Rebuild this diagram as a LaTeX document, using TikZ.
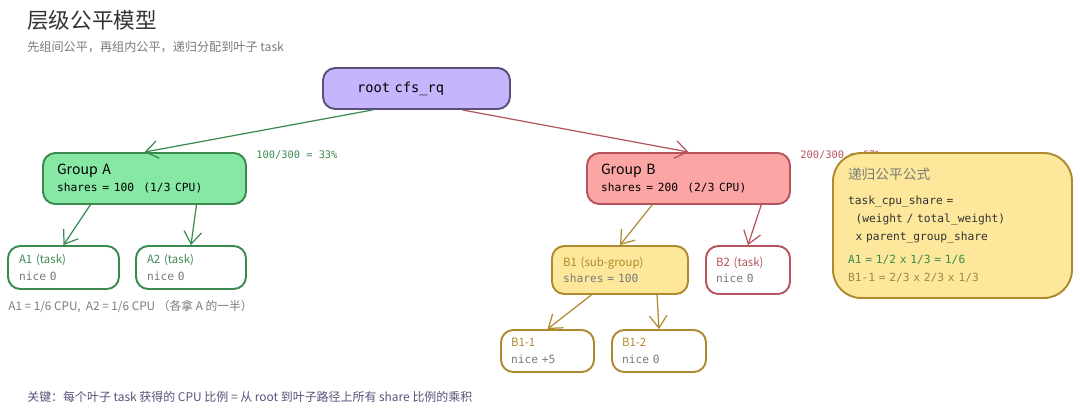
\documentclass[tikz,border=0pt]{standalone}
\usepackage{fontspec}
\setmainfont{Noto Sans CJK SC}
\setmonofont{DejaVu Sans Mono}
\usetikzlibrary{arrows.meta}
\definecolor{lav}{HTML}{C4B5FD}
\definecolor{lavline}{HTML}{5B4F7A}
\definecolor{grn}{HTML}{86E8A4}
\definecolor{grnline}{HTML}{3A8A50}
\definecolor{rd}{HTML}{FCA5A5}
\definecolor{rdline}{HTML}{B5545C}
\definecolor{yl}{HTML}{FCE79A}
\definecolor{ylline}{HTML}{AE8A2E}
\definecolor{txtgray}{HTML}{7A7A7A}
\tikzset{
  box/.style={draw, rounded corners=7pt, line width=1.1pt, align=left},
  hand/.style={font=\fontsize{6.5}{8}\selectfont},
  link/.style={line width=0.7pt, -{Straight Barb[length=7pt,width=10pt]}},
}
\newcommand{\mono}{\fontsize{6.4}{10.2}\ttfamily}
\begin{document}
\begin{tikzpicture}[x=0.02cm, y=-0.02cm]
\useasboundingbox (0,0) rectangle (1080,414);
%title
\node[anchor=west, text=black!80, font=\fontsize{12.3}{14}\selectfont, inner sep=0pt] (title) at (27,20) {层级公平模型};
\node[anchor=west, text=txtgray, font=\fontsize{6.9}{8}\selectfont, inner sep=0pt] (subtitle) at (27,47) {先组间公平，再组内公平，递归分配到叶子 task};
%root
\node[box, fill=lav, draw=lavline, minimum width=3.74cm, minimum height=0.82cm, text width=2.38cm, inner xsep=0.68cm,
  font=\fontsize{7.8}{9}\ttfamily] (root) at (416.5,88.5) {root cfs\_rq};
%groups
\node[box, fill=grn, draw=grnline, minimum width=4.06cm, minimum height=1.02cm, text width=3.5cm, inner xsep=0.28cm,
  font=\fontsize{8}{10.2}\selectfont] (ga) at (144.5,178.5) {Group A\\{\mono shares = 100\ \ (1/3 CPU)}};
\node[box, fill=rd, draw=rdline, minimum width=4.06cm, minimum height=1.02cm, text width=3.5cm, inner xsep=0.28cm,
  font=\fontsize{8}{10.2}\selectfont] (gb) at (688.5,178.5) {Group B\\{\mono shares = 200\ \ (2/3 CPU)}};
\node[anchor=west, text=grnline, font=\fontsize{5.9}{7}\ttfamily, inner sep=0pt] (lba) at (256,155) {100/300 = 33\%};
\node[anchor=west, text=rdline, font=\fontsize{5.9}{7}\ttfamily, inner sep=0pt] (lbb) at (800,155) {200/300 = 67\%};
%leaves of A
\node[box, fill=white, draw=grnline, minimum width=2.22cm, minimum height=0.86cm, text width=1.78cm, inner xsep=0.22cm,
  hand, text=grnline] (a1) at (63.5,267.5) {A1 (task)\\[1.5pt]{\mono\color{txtgray}nice 0}};
\node[box, fill=white, draw=grnline, minimum width=2.2cm, minimum height=0.86cm, text width=1.76cm, inner xsep=0.22cm,
  hand, text=grnline] (a2) at (191,267.5) {A2 (task)\\[1.5pt]{\mono\color{txtgray}nice 0}};
\node[anchor=west, text=txtgray, font=\fontsize{6.7}{8}\selectfont, inner sep=0pt] (anote) at (8,307) {A1 = 1/6 CPU,\ \ A2 = 1/6 CPU （各拿 A 的一半）};
%children of B
\node[box, fill=yl, draw=ylline, minimum width=2.72cm, minimum height=0.96cm, text width=2.28cm, inner xsep=0.22cm,
  hand, text=ylline] (b1) at (620,270) {B1 (sub-group)\\[1.5pt]{\mono\color{txtgray}shares = 100}};
\node[box, fill=white, draw=rdline, minimum width=1.68cm, minimum height=0.96cm, text width=1.28cm, inner xsep=0.2cm,
  hand, text=rdline] (b2) at (748,270) {B2 (task)\\[1.5pt]{\mono\color{txtgray}nice 0}};
\node[box, fill=white, draw=ylline, minimum width=1.86cm, minimum height=0.84cm, text width=1.46cm, inner xsep=0.2cm,
  hand, text=ylline] (b11) at (547.5,351) {B1-1\\[1.5pt]{\mono\color{txtgray}nice +5}};
\node[box, fill=white, draw=ylline, minimum width=1.88cm, minimum height=0.84cm, text width=1.48cm, inner xsep=0.2cm,
  hand, text=ylline] (b12) at (659,351) {B1-2\\[1.5pt]{\mono\color{txtgray}nice 0}};
%formula
\node[box, fill=yl, draw=ylline, rounded corners=16pt, minimum width=4.78cm, minimum height=2.9cm, text width=4.18cm,
  inner xsep=0.3cm, font=\mono, text=black!80] (formula) at (952.5,225.5)
  {{\rmfamily\fontsize{7.8}{9}\selectfont\color{txtgray}递归公平公式}\\[4pt]
   task\_cpu\_share =\\
   \ \ (weight / total\_weight)\\
   \ \ x parent\_group\_share\\[3pt]
   {\color{grnline}A1 = 1/2 x 1/3 = 1/6}\\
   {\color{ylline!70!gray}B1-1 = 2/3 x 2/3 x 1/3}};
%arrows
\draw[link, grnline] (root.206) -- (ga.north);
\draw[link, rdline] (root.335) -- (gb.north);
\draw[link, grnline] (ga.206) -- (a1.north);
\draw[link, grnline] (ga.333) -- (a2.north);
\draw[link, ylline] (gb.216) -- (b1.north);
\draw[link, rdline] (gb.340) -- (b2.north);
\draw[link, ylline] (b1.221) -- (b11.north);
\draw[link, ylline] (b1.326) -- (b12.north);
%key
\node[anchor=west, text=lavline, font=\fontsize{6.8}{8}\selectfont, inner sep=0pt] (key) at (27,397) {关键：每个叶子 task 获得的 CPU 比例 = 从 root 到叶子路径上所有 share 比例的乘积};
\end{tikzpicture}
\end{document}
